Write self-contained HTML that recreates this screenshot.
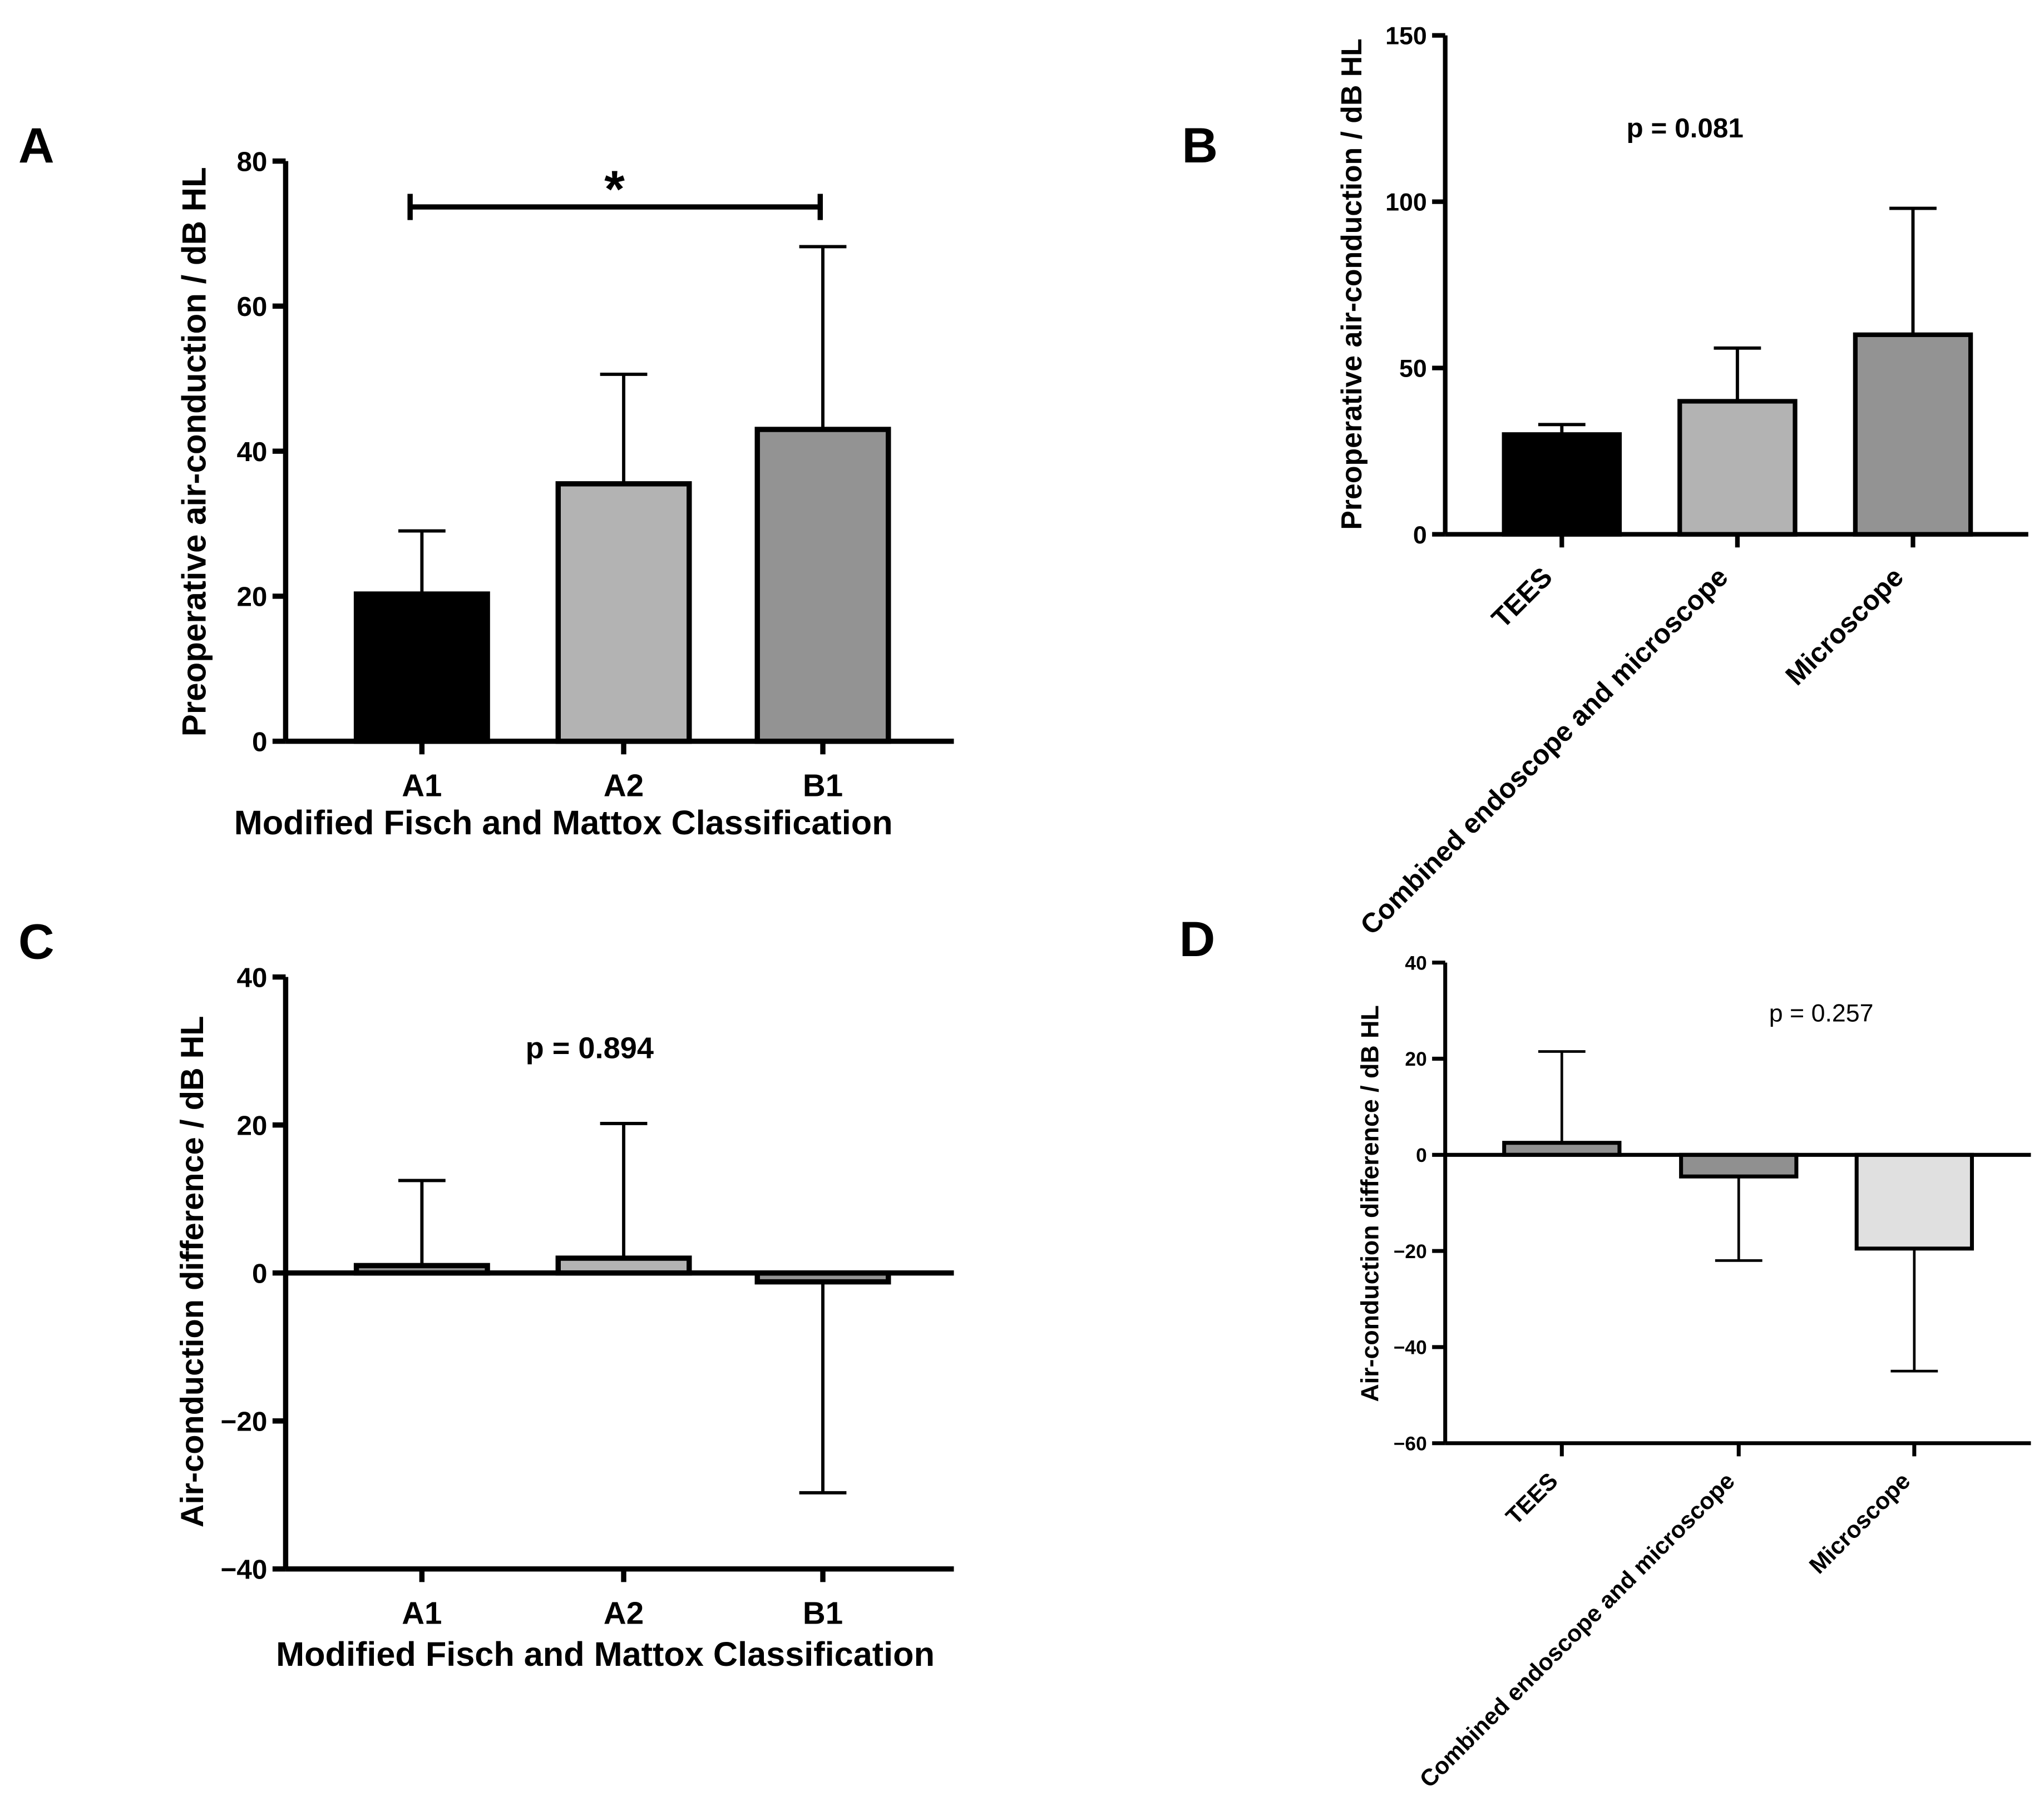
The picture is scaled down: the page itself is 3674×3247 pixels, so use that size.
<!DOCTYPE html>
<html><head><meta charset="utf-8">
<style>
html,body{margin:0;padding:0;background:#fff;}
svg{display:block;}
text{font-family:"Liberation Sans",Arial,sans-serif;}
</style></head>
<body>
<svg id="fig" width="3674" height="3247" viewBox="0 0 1560 1379" preserveAspectRatio="none" xmlns="http://www.w3.org/2000/svg"></svg>
<script>
// ---- Data ----
const catsAC = ["A1","A2","B1"];
const catsBD = ["TEES","Combined endoscope and microscope","Microscope"];
const valsA = [20.3, 35.5, 43];
const errA  = [29, 50.6, 68.2];
const valsB = [30, 40, 60];
const errB  = [33, 56, 98];
const valsC = [1, 2, -1.2];
const errC  = [12.5, 20.2, -29.7];
const valsD = [2.5, -4.5, -19.5];
const errD  = [21.5, -22, -45];
const ticksA = [0,20,40,60,80];
const ticksB = [0,50,100,150];
const ticksC = [-40,-20,0,20,40];
const ticksD = [-60,-40,-20,0,20,40];

const svg = document.getElementById('fig');
const NS = "http://www.w3.org/2000/svg";
function el(tag, attrs, parent){
  const e = document.createElementNS(NS, tag);
  for (const k in attrs) e.setAttribute(k, attrs[k]);
  (parent||svg).appendChild(e);
  return e;
}
function txt(s, attrs, parent){ const t = el('text', attrs, parent); t.textContent = s; return t; }

function panel(cfg){
  const g = el('g', {});
  
  
  const y = v => cfg.y0 + (v - cfg.vmin) * (cfg.y1 - cfg.y0) / (cfg.vmax - cfg.vmin);
  const sw = cfg.sw;
  cfg.vals.forEach((v, i) => {
    const x0 = cfg.barX[i], w = cfg.barW, cx = x0 + w/2;
    const top = Math.min(y(v), y(0)), h = Math.abs(y(v) - y(0));
    const r = el('rect', {x:x0, y:top, width:w, height:h, fill:cfg.colors[i], stroke:'#000', 'stroke-width':sw}, g);
    
    
    const e = cfg.errs[i];
    const eb = el('path', {d:`M${cx},${y(v)} L${cx},${y(e)} M${cx-18},${y(e)} L${cx+18},${y(e)}`, stroke:'#000', 'stroke-width':cfg.ew, fill:'none'}, g);
    
    
  });
  const ya = el('line', {x1:cfg.ax, y1:y(cfg.vmin), x2:cfg.ax, y2:y(cfg.vmax), stroke:'#000', 'stroke-width':sw}, g);
  
  
  cfg.ticks.forEach(t => {
    el('line', {x1:cfg.ax-10, y1:y(t), x2:cfg.ax, y2:y(t), stroke:'#000', 'stroke-width':sw}, g);
    const tl = txt(String(t).replace('-', '\u2212'), {x:cfg.ax-14, y:y(t)+cfg.fs*0.36, 'text-anchor':'end', 'font-size':cfg.fs, 'font-weight':'bold'}, g);
    
    
  });
  const xa = el('line', {x1:cfg.ax, y1:y(0), x2:cfg.axEnd, y2:y(0), stroke:'#000', 'stroke-width':sw}, g);
  
  
  const tickBase = cfg.tickAtBottom ? y(cfg.vmin) : y(0);
  if (cfg.tickAtBottom){
    el('line', {x1:cfg.ax, y1:tickBase, x2:cfg.axEnd, y2:tickBase, stroke:'#000', 'stroke-width':sw}, g);
  }
  cfg.cats.forEach((c, i) => {
    const cx = cfg.barX[i] + cfg.barW/2;
    el('line', {x1:cx, y1:tickBase, x2:cx, y2:tickBase+10, stroke:'#000', 'stroke-width':sw}, g);
    let t;
    if (cfg.rot){
      const ax = cx + cfg.rdx, ay = tickBase + cfg.rdy;
      t = txt(c, {x:ax, y:ay, 'text-anchor':'end', 'font-size':cfg.xfs, 'font-weight':'bold', transform:`rotate(-45 ${ax} ${ay})`}, g);
    } else {
      t = txt(c, {x:cx, y:tickBase+42, 'text-anchor':'middle', 'font-size':cfg.xfs, 'font-weight':'bold'}, g);
    }
    
    
  });
  const yt = txt(cfg.ytitle, {x:cfg.ytx, y:cfg.yty, 'text-anchor':'middle', 'font-size':cfg.yfs, 'font-weight':'bold', transform:`rotate(-90 ${cfg.ytx} ${cfg.yty})`}, g);
  
  
  if (cfg.xtitle){
    const xt = txt(cfg.xtitle, {x:cfg.xtx, y:cfg.xty, 'text-anchor':'middle', 'font-size':26, 'font-weight':'bold'}, g);
    
    
  }
  const pl = txt(cfg.letter, {x:cfg.lx, y:cfg.ly, 'font-size':38, 'font-weight':'bold'}, g);
  
  
  if (cfg.p){
    const pv = txt(cfg.p, {x:cfg.px, y:cfg.py, 'text-anchor':'middle', 'font-size':cfg.pfs, 'font-weight':cfg.pbold?'bold':'normal'}, g);
    
    
  }
  return {g, y};
}

const A = panel({name:'panel-a', letter:'A', lx:14, ly:124, cats:catsAC, vals:valsA, errs:errA, ticks:ticksA,
  vmin:0, vmax:80, y0:566, y1:123, ax:218, axEnd:728, barX:[272,426,578], barW:100,
  colors:['#000','#b3b3b3','#939393'], sw:4, ew:2.5, fs:21, xfs:24, yfs:25.5,
  ytitle:'Preoperative air-conduction / dB HL', ytx:157, yty:345,
  xtitle:'Modified Fisch and Mattox Classification', xtx:430, xty:637});
const sig = el('path', {d:'M313,158 L626,158 M313,148 L313,168 M626,148 L626,168', stroke:'#000', 'stroke-width':4, fill:'none'}, A.g);


const star = txt('*', {x:469, y:158, 'text-anchor':'middle', 'font-size':40, 'font-weight':'bold'}, A.g);



panel({name:'panel-b', letter:'B', lx:902, ly:124, cats:catsBD, vals:valsB, errs:errB, ticks:ticksB,
  vmin:0, vmax:150, y0:408, y1:27, ax:1103, axEnd:1548, barX:[1148,1282,1416], barW:88,
  colors:['#000','#b3b3b3','#939393'], sw:3.5, ew:2.5, fs:19, xfs:21, yfs:22, rot:true, rdx:-6, rdy:34,
  ytitle:'Preoperative air-conduction / dB HL', ytx:1039, yty:217,
  p:'p = 0.081', px:1286, py:105, pfs:21, pbold:true});

panel({name:'panel-c', letter:'C', lx:14, ly:732, cats:catsAC, vals:valsC, errs:errC, ticks:ticksC,
  vmin:-40, vmax:40, y0:1198, y1:746, ax:218, axEnd:728, barX:[272,426,578], barW:100,
  colors:['#909090','#b3b3b3','#939393'], sw:4, ew:2.5, fs:21, xfs:24, yfs:24.5, tickAtBottom:true,
  ytitle:'Air-conduction difference / dB HL', ytx:155, yty:971,
  xtitle:'Modified Fisch and Mattox Classification', xtx:462, xty:1272,
  p:'p = 0.894', px:450, py:808, pfs:23, pbold:true});

panel({name:'panel-d', letter:'D', lx:900, ly:730, cats:catsBD, vals:valsD, errs:errD, ticks:ticksD,
  vmin:-60, vmax:40, y0:1102, y1:735, ax:1103, axEnd:1550, barX:[1148,1283,1417], barW:88,
  colors:['#909090','#909090','#e0e0e0'], sw:3, ew:2, fs:15, xfs:18, yfs:19, rot:true, tickAtBottom:true, rdx:-2, rdy:30,
  ytitle:'Air-conduction difference / dB HL', ytx:1052, yty:919,
  p:'p = 0.257', px:1390, py:780, pfs:19, pbold:false});
</script>
</body></html>
